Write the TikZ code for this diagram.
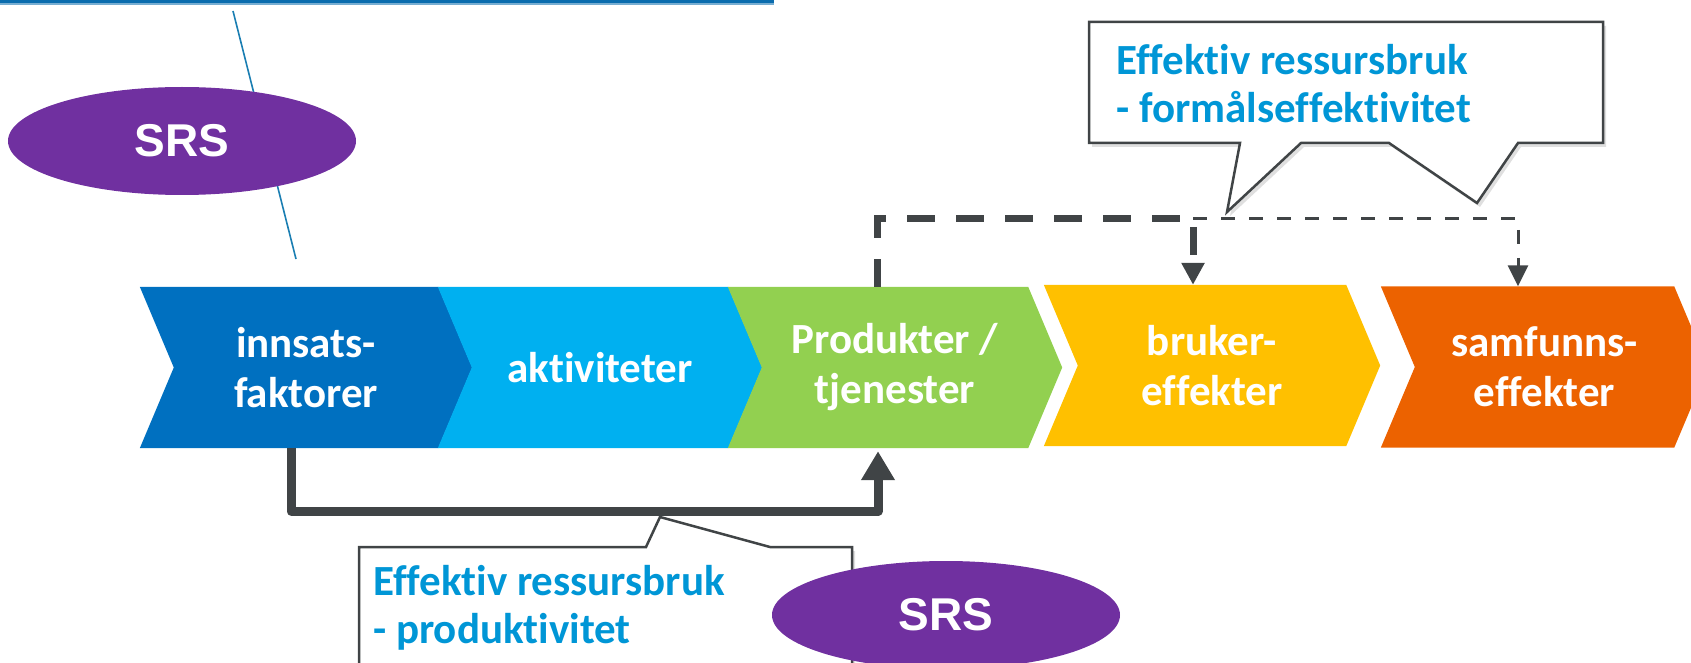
\documentclass[tikz,border=0pt]{standalone}
\usepackage{fontspec}
\newfontfamily\calibri{Carlito}[Ligatures={NoCommon,NoContextual}]
\newfontfamily\arialfont{Liberation Sans}
\usetikzlibrary{arrows.meta,shapes.geometric,shadows,backgrounds}
\definecolor{barblue}{RGB}{10,108,174}
\definecolor{lineblue}{RGB}{26,126,178}
\definecolor{srspurple}{RGB}{112,48,160}
\definecolor{inputblue}{RGB}{0,112,192}
\definecolor{actblue}{RGB}{0,176,240}
\definecolor{prodgreen}{RGB}{146,208,80}
\definecolor{usergold}{RGB}{255,192,0}
\definecolor{socorange}{RGB}{236,98,0}
\definecolor{arrowgray}{RGB}{64,68,70}
\definecolor{textblue}{RGB}{0,150,214}
\tikzset{
    chevron/.style={minimum height=161pt, minimum width=#1, inner sep=0pt, align=center, text=white,
        font=\calibri\bfseries\fontsize{43}{50}\selectfont},
    srs/.style={ellipse, fill=srspurple, minimum width=348pt, minimum height=108pt, inner sep=0pt, text=white,
        font=\arialfont\bfseries\fontsize{46}{50}\selectfont},
    callout/.style={draw=arrowgray, line width=2.5pt, fill=white,
        drop shadow={shadow xshift=3pt, shadow yshift=-4pt, opacity=0.25}},
    calltext/.style={anchor=north west, align=left, inner sep=0pt, text=textblue,
        font=\calibri\bfseries\fontsize{43}{48}\selectfont},
    flow/.style={draw=arrowgray, line width=9pt, line join=round, -{Triangle[length=29pt, width=32pt]}},
    thickdash/.style={draw=arrowgray, line width=7pt, dash pattern=on 28pt off 21pt, -{Triangle[length=22pt, width=22pt]}},
    thindash/.style={draw=arrowgray, line width=3pt, dash pattern=on 14pt off 14pt, -{Triangle[length=21pt, width=20pt]}},
}
\newcommand\chevfill[2]{%
    \fill[#2] ([xshift=-17pt]#1.north west) -- ([xshift=-17pt]#1.north east) -- ([xshift=17pt]#1.east)
        -- ([xshift=-17pt]#1.south east) -- ([xshift=-17pt]#1.south west) -- ([xshift=17pt]#1.west) -- cycle;}
\begin{document}
\begin{tikzpicture}[x=1pt, y=-1pt]
        \useasboundingbox (0,0) rectangle (1691,663);
        \begin{scope}
            \fill[barblue] (0,0) rectangle (774,3.5);
            \fill[barblue!55] (0,3.5) rectangle (774,5.5);
            \coordinate (lineTop) at (233,11);
            \coordinate (lineBot) at (296,259);
            \draw[lineblue, line width=1.6pt] (lineTop) -- (lineBot);
            \node[srs] (srsA) at (182,141) {SRS};
        \end{scope}
        \begin{scope}
            \node[chevron=298pt] (c1) at (306,367.5) {innsats-\\faktorer};
            \node[chevron=290pt] (c2) at (600,367.5) {aktiviteter};
            \node[chevron=300pt] (c3) at (895,367.5) {Produkter /\\tjenester};
            \node[chevron=302pt] (c4) at (1212,365.5) {bruker-\\effekter};
            \node[chevron=293pt] (c5) at (1544.5,367) {samfunns-\\effekter};
            \begin{pgfonlayer}{background}
                \foreach \n/\c in {c1/inputblue, c2/actblue, c3/prodgreen, c4/usergold, c5/socorange}
                    \chevfill{\n}{\c};
            \end{pgfonlayer}
        \end{scope}
        \begin{scope}
            \draw[callout] (1089,22) -- (1603,22) -- (1603,143) -- (1518,143) -- (1477,203) -- (1389,143)
                -- (1301,143) -- (1227,212) -- (1240,143) -- (1089,143) -- cycle;
            \node[calltext] (effTop) at (1116,44) {Effektiv ressursbruk\\- formålseffektivitet};
            \draw[thickdash] ([xshift=-18pt]c3.north) -- ++(0,-68) -| ([xshift=-19pt]c4.north);
            \coordinate (split) at ([xshift=-19pt, yshift=66pt]c4.north);
            \draw[thindash] (split) -| ([xshift=-26.5pt]c5.north);
        \end{scope}
        \begin{scope}
            \draw[flow, shorten >=3pt] ([xshift=-15pt]c1.south) -- ++(0,63) -| ([xshift=-17pt]c3.south);
            \draw[callout] (359,700) -- (359,547) -- (646,547) -- (660,517) -- (770,547) -- (852,547)
                -- (852,700) -- cycle;
            \node[calltext] (effBot) at (373,565) {Effektiv ressursbruk\\- produktivitet};
            \node[srs] (srsB) at (946,615) {SRS};
        \end{scope}
    \end{tikzpicture}
\end{document}
